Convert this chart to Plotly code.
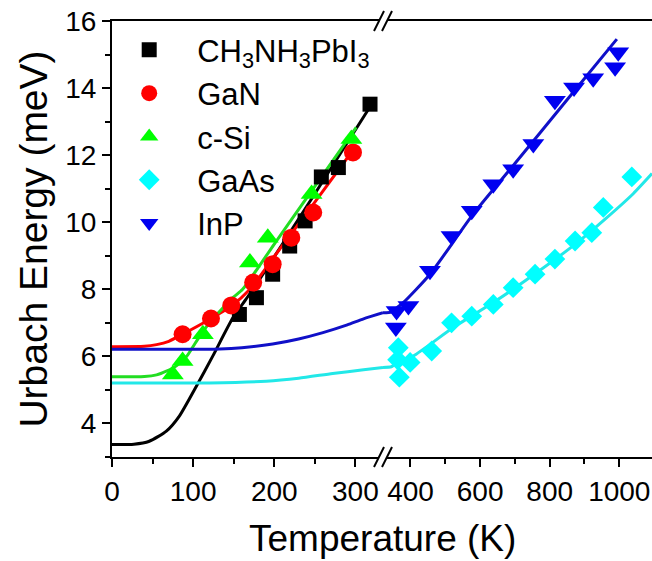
import plotly.graph_objects as go

# ---------------- data ----------------
mapi_T = [157, 178, 198, 219, 238, 258, 279, 318]
mapi_E = [7.25, 7.75, 8.45, 9.29, 10.04, 11.35, 11.63, 13.52]

gan_T = [87, 122, 147, 174, 198, 221, 248, 297]
gan_E = [6.66, 7.13, 7.52, 8.2, 8.75, 9.54, 10.29, 12.08]

si_T = [75, 87, 112, 170, 192, 246, 295]
si_E = [5.46, 5.86, 6.66, 8.8, 9.54, 10.84, 12.48]

gaas_T = [365, 363, 399, 368, 461, 518, 576, 638, 695, 758, 815, 873, 921, 954, 1036]
gaas_E = [6.26, 5.9, 5.82, 5.38, 6.16, 7.0, 7.2, 7.55, 8.05, 8.45, 8.9, 9.44, 9.69, 10.44, 11.35]

inp_T = [358, 360, 394, 456, 518, 576, 638, 695, 753, 815, 870, 925, 988, 997]
inp_E = [6.86, 7.35, 7.5, 8.55, 9.59, 10.34, 11.13, 11.58, 12.33, 13.62, 14.02, 14.29, 14.62, 15.07]

# fitted curves
fit_mapi_T = [0, 27, 46, 67, 83, 104, 124, 149, 165, 178, 250, 320]
fit_mapi_E = [3.37, 3.38, 3.47, 3.77, 4.22, 5.11, 6.0, 7.15, 7.7, 8.15, 10.85, 13.52]
fit_gan_T = [0, 40, 55, 70, 87, 120, 147, 170, 200, 250, 301]
fit_gan_E = [6.29, 6.3, 6.35, 6.45, 6.66, 7.1, 7.5, 8.0, 8.98, 10.6, 12.28]
fit_si_T = [0, 40, 55, 67, 79, 92, 104, 120, 149, 161, 200, 250, 301]
fit_si_E = [5.39, 5.4, 5.45, 5.56, 5.71, 6.0, 6.45, 7.0, 7.75, 8.0, 9.35, 11.07, 12.83]
fit_gaas_lo_T = [0, 120, 190, 230, 272, 310, 334]
fit_gaas_lo_E = [5.21, 5.21, 5.26, 5.35, 5.49, 5.6, 5.67]
fit_gaas_hi_T = [321, 345, 355, 408, 523, 640, 763, 880, 960, 1040, 1094]
fit_gaas_hi_E = [5.67, 5.69, 5.76, 6.01, 6.86, 7.62, 8.5, 9.4, 10.1, 10.85, 11.45]
fit_inp_lo_T = [0, 100, 133, 160, 198, 230, 260, 290, 310, 334]
fit_inp_lo_E = [6.21, 6.21, 6.22, 6.26, 6.37, 6.52, 6.71, 6.94, 7.12, 7.3]
fit_inp_hi_T = [321, 345, 355, 379, 456, 580, 700, 850, 993]
fit_inp_hi_E = [7.3, 7.32, 7.4, 7.6, 8.45, 10.24, 11.75, 13.65, 15.46]

x_left_ticks = [0, 100, 200, 300]
x_right_ticks = [400, 600, 800, 1000]
y_ticks = [4, 6, 8, 10, 12, 14, 16]

# ---------------- styles ----------------
C_BLK = "#000000"
C_RED = "#FF0000"
C_GRN_M, C_GRN_L = "#00FF00", "#22DD22"
C_CYN_M, C_CYN_L = "#00FFFF", "#22E8E8"
C_BLU_M, C_BLU_L = "#0000F0", "#1010C8"
LW = 3
FONT = "Liberation Sans, Arial"
FONT_LEG = "Liberation Sans, Arial"

fig = go.Figure()

def fit(T, E, color, xa):
    fig.add_trace(go.Scatter(x=T, y=E, mode="lines", xaxis=xa, yaxis="y",
                             line=dict(color=color, width=LW, shape="spline", smoothing=0.6),
                             showlegend=False, hoverinfo="skip"))

fit(fit_mapi_T, fit_mapi_E, C_BLK, "x")
fit(fit_gan_T, fit_gan_E, C_RED, "x")
fit(fit_si_T, fit_si_E, C_GRN_L, "x")
fit(fit_gaas_lo_T, fit_gaas_lo_E, C_CYN_L, "x")
fit(fit_inp_lo_T, fit_inp_lo_E, C_BLU_L, "x")
fit(fit_gaas_hi_T, fit_gaas_hi_E, C_CYN_L, "x2")
fit(fit_inp_hi_T, fit_inp_hi_E, C_BLU_L, "x2")

def pts(T, E, name, color, symbol, size, xa):
    fig.add_trace(go.Scatter(x=T, y=E, mode="markers", name=name, xaxis=xa, yaxis="y",
                             marker=dict(color=color, symbol=symbol, size=size,
                                         line=dict(width=0))))

pts(mapi_T, mapi_E, "CH<sub>3</sub>NH<sub>3</sub>PbI<sub>3</sub>", C_BLK, "square", 15, "x")
pts(gan_T, gan_E, "GaN", C_RED, "circle", 18, "x")
pts(si_T, si_E, "c-Si", C_GRN_M, "triangle-up", 19, "x")
pts(gaas_T, gaas_E, "GaAs", C_CYN_M, "diamond", 16, "x2")
pts(inp_T, inp_E, "InP", C_BLU_M, "triangle-down", 19, "x2")

W, H = 652, 561
ML, MR, MT, MB = 112, 0, 21, 104
PW, PH = W - ML - MR, H - MT - MB
D = (383 - ML) / PW  # break position (paper)

axis_common = dict(showgrid=False, zeroline=False, showline=True, linecolor="black",
                   linewidth=2, ticks="outside", ticklen=8, tickwidth=2, tickcolor="black",
                   tickfont=dict(family=FONT, size=28, color="black"),
                   mirror=True)

fig.update_layout(
    width=W, height=H, margin=dict(l=ML, r=MR, t=MT, b=MB),
    paper_bgcolor="white", plot_bgcolor="white",
    xaxis=dict(domain=[0, D], range=[0, 334], tickvals=x_left_ticks,
               minor=dict(dtick=50, ticklen=5, tickwidth=2, tickcolor="black", ticks="outside"),
               anchor="y", **axis_common),
    xaxis2=dict(domain=[D, 1], range=[321, 1094], tickvals=x_right_ticks,
                minor=dict(dtick=100, tick0=0, ticklen=5, tickwidth=2, tickcolor="black", ticks="outside"),
                anchor="y", **axis_common),
    yaxis=dict(domain=[0, 1], range=[3, 16], tickvals=y_ticks,
               minor=dict(dtick=1, ticklen=5, tickwidth=2, tickcolor="black", ticks="outside"),
               anchor="x",
               title=dict(text="Urbach Energy (meV)", font=dict(family=FONT, size=39, color="black"),
                          standoff=6),
               **{k: v for k, v in axis_common.items() if k != "mirror"}),
    legend=dict(x=-0.02, y=0.995, xanchor="left", yanchor="top", bgcolor="rgba(0,0,0,0)",
                font=dict(family=FONT_LEG, size=31, color="black"), itemwidth=86,
                tracegroupgap=0),
    showlegend=True,
)

# x-axis title as annotation centered under the whole plot
fig.add_annotation(text="Temperature (K)", xref="paper", yref="paper", x=0.5, y=-0.188,
                   xanchor="center", yanchor="middle", showarrow=False,
                   font=dict(family=FONT, size=37, color="black"))

# axis break marks on top and bottom axis lines
px = 1.0 / PW
py = 1.0 / PH
for yb in (0.0, 1.0):
    fig.add_shape(type="rect", xref="paper", yref="paper",
                  x0=D - 4 * px, x1=D + 4 * px, y0=yb - 2 * py, y1=yb + 2 * py,
                  fillcolor="white", line=dict(width=0), layer="above")
    for off in (-4, 4):
        fig.add_shape(type="line", xref="paper", yref="paper",
                      x0=D + (off - 5) * px, x1=D + (off + 5) * px,
                      y0=yb - 10 * py, y1=yb + 10 * py,
                      line=dict(color="black", width=2), layer="above")

fig.write_html("out.html")
